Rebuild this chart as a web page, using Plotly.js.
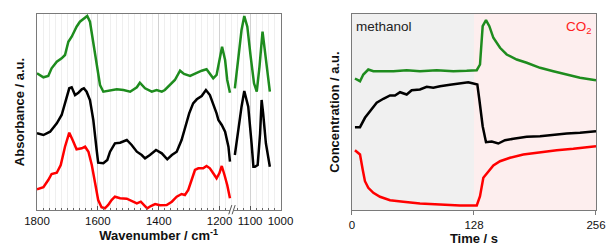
<!DOCTYPE html>
<html><head><meta charset="utf-8">
<script src="https://cdn.plot.ly/plotly-3.0.1.min.js"></script>
<style>html,body{margin:0;padding:0;background:#fff}#g{width:607px;height:251px}</style>
</head><body><div id="g"></div>
<script>
// ---- Left panel: IR spectra (wavenumber / cm-1, absorbance a.u.) ----
const greenWnL = [1800,1779,1763,1752,1735,1719,1708,1697,1686,1670,1659,1648,1635,1626,1615,1604,1593,1582,1560,1538,1516,1494,1472,1462,1445,1423,1407,1390,1380,1363,1347,1330,1317,1297,1275,1259,1243,1232,1221,1210,1201,1192,1182,1175,1166];
const greenAbsL = [136.7,132.7,134,141.7,148.3,151.7,155,168.3,173.3,183.3,188.3,190.7,194,188.3,166.7,143.3,125,118.3,119.3,120.7,120,118.3,122.7,127.3,121.7,118.3,120,118.3,120,125,130,139.3,136,134,137.3,139.3,140.7,136.7,131.7,135,150,163.3,150,130,117.3];
const greenWnR = [1150,1139,1128,1119,1109,1098,1087,1078,1069,1059,1051,1042,1035];
const greenAbsR = [121.7,150,180,194,183.3,153.3,126.7,118.3,143.3,178.3,156.7,133.3,118.3];

const blackWnL = [1800,1779,1757,1735,1719,1705,1694,1686,1675,1664,1653,1646,1637,1626,1615,1604,1599,1582,1569,1560,1544,1527,1505,1489,1472,1456,1445,1429,1409,1390,1372,1357,1341,1325,1314,1300,1287,1275,1259,1245,1232,1221,1210,1204,1193,1182,1171,1166];
const blackAbsL = [76.7,75,78.3,86.7,95,110,121.7,122.7,115,117.3,120.7,121.7,118.3,110,90,60,47.3,46.7,50,58.3,66.7,67.3,70,65,58.3,55,51.7,55,60,56.7,50.7,55,58.3,70,81.7,96.7,106.7,110.7,114,120,115,106.7,96.7,90,85,78.3,63.3,48.3];
const blackWnR = [1150,1139,1128,1119,1106,1095,1089,1084,1075,1067,1062,1057,1048,1035];
const blackAbsR = [55,80,103.3,119,103.3,66.7,43.3,43.3,45,76.7,110,96.7,66.7,43.3];

const redWnL = [1800,1779,1763,1752,1735,1722,1708,1694,1683,1670,1653,1642,1631,1620,1609,1599,1588,1577,1566,1555,1544,1527,1505,1489,1472,1459,1448,1438,1426,1412,1396,1374,1357,1341,1325,1314,1303,1292,1281,1270,1254,1243,1232,1221,1210,1201,1193,1184,1175,1166];
const redAbsL = [20.7,22.7,30,36,37.3,45,63.3,77.3,70,60.7,61.7,63.3,58.3,45,26.7,10,2.7,1.7,5,10,13.3,11.7,11.3,9.3,6.7,8.3,5,1.7,4,6,4.7,5,8.3,13.3,16,15,20,30.7,40,41.7,41.7,44,41.7,36.7,31.7,36.7,44,35,25,11.7];

const wnTickVals = [1800,1600,1400,1200,1100,1000];
const wnTickText = ["1800","1600","1400","1200","1100","1000"];

// ---- Right panel: concentration vs time ----
const greenT = [3.1,8.4,11.9,17.1,22.4,32.9,43.4,57.4,71.3,88.9,106.3,120.3,130.9,134.3,137.1,140.6,144.1,148.3,155.3,162.3,172.8,183.3,197.3,211.2,225.3,239.2,256];
const greenC = [131.5,128.8,135.5,140.5,138.8,138.5,138.8,139.8,138.8,139.8,138.8,139.2,139.8,145.5,183.8,189.8,183.8,172.2,162.2,155.5,150.5,147.2,142.2,138.8,135.5,132.2,129.8];
const blackT = [3.1,8.4,13.6,18.9,25.9,32.9,39.9,45.1,50.4,57.4,62.6,71.3,78.4,85.3,92.3,102.8,113.3,122,127.3,131.5,133.6,137.1,140.6,146.6,153.5,160.5,169.3,183.3,197.3,211.2,225.3,239.2,256];
const blackC = [82.8,82.8,92.2,98.8,107.2,111.2,114.5,114.5,117.8,115.5,119.8,120.5,123.2,122.2,123.8,125.2,126.5,127.8,126.5,125.5,110.5,83.8,67.8,68.5,66.5,69.8,71.2,73.2,73.8,75.5,76.5,77.2,78.8];
const redT = [3.1,8.4,11.2,13.6,17.1,22.4,29.4,39.9,53.8,71.3,92.3,113.3,130.9,134.3,137.8,143,148.3,155.3,165.8,179.7,197.3,214.8,232.2,256];
const redC = [59.8,55.5,40.5,28.8,22.2,17.2,13.2,9.8,8.2,6.5,5.5,4.5,4.5,13.8,32.2,38.8,44.5,48.8,52.2,55.5,57.8,59.8,61.2,63.8];
const timeTickVals = [0,128,256];
const phaseStart = [0,128];
const phaseEnd = [128,256];
const phaseFill = ["#f0f0f0","#fdeeee"];

const GREEN = "#1e8c1e", BLACK = "#000000", RED = "#ff0000";
const LW = 2.5;
const FONT = "Liberation Sans, Arial, sans-serif";

function tr(x, y, c, xa, ya) {
  return {x: x, y: y, type: "scatter", mode: "lines", line: {color: c, width: LW},
          xaxis: xa, yaxis: ya, showlegend: false, hoverinfo: "skip"};
}

const data = [
  tr(greenWnL, greenAbsL, GREEN, "x", "y"),
  tr(greenWnR, greenAbsR, GREEN, "x", "y"),
  tr(blackWnL, blackAbsL, BLACK, "x", "y"),
  tr(blackWnR, blackAbsR, BLACK, "x", "y"),
  tr(redWnL, redAbsL, RED, "x", "y"),
  tr(greenT, greenC, GREEN, "x2", "y2"),
  tr(blackT, blackC, BLACK, "x2", "y2"),
  tr(redT, redC, RED, "x2", "y2")
];

const frame = "#7a7a7a";
const shapes = [];
for (let i = 0; i < phaseStart.length; i++) {
  shapes.push({type: "rect", xref: "x2", yref: "y2 domain", x0: phaseStart[i], x1: phaseEnd[i], y0: 0, y1: 1,
               fillcolor: phaseFill[i], line: {width: 0}, layer: "below"});
}
// axis break marks "//"
shapes.push({type: "rect", xref: "x", yref: "paper", x0: 1166, x1: 1153, y0: -0.012, y1: 0.012,
             fillcolor: "#ffffff", line: {width: 0}, layer: "above"});
shapes.push({type: "line", xref: "x", yref: "paper", x0: 1170, y0: -0.022, x1: 1160, y1: 0.025, line: {color: "#555", width: 1}, layer: "above"});
shapes.push({type: "line", xref: "x", yref: "paper", x0: 1159, y0: -0.022, x1: 1149, y1: 0.025, line: {color: "#555", width: 1}, layer: "above"});

const layout = {
  width: 607, height: 251,
  margin: {l: 37, r: 11, t: 14, b: 41, pad: 0},
  paper_bgcolor: "#ffffff", plot_bgcolor: "#ffffff",
  font: {family: FONT, size: 11.5, color: "#111"},
  showlegend: false,
  xaxis: {
    domain: [0, 0.4356], range: [1800, 1000], anchor: "y",
    tickmode: "array", tickvals: wnTickVals, ticktext: wnTickText,
    ticks: "inside", ticklen: 4, tickcolor: "#555",
    showgrid: true, gridcolor: "#d2d2d2", gridwidth: 1,
    minor: {tickmode: "linear", tick0: 1000, dtick: 20, ticks: "inside", ticklen: 2.5, tickcolor: "#666", showgrid: true, gridcolor: "#efefef", gridwidth: 1},
    showline: true, linecolor: frame, linewidth: 1, mirror: true, zeroline: false,
    tickfont: {family: FONT, size: 11.5, color: "#111"},
    title: {text: "<b>Wavenumber / cm<sup>-1</sup></b>", font: {family: FONT, size: 13, color: "#111"}, standoff: 4}
  },
  yaxis: {
    domain: [0, 1], range: [0, 196], anchor: "x",
    showticklabels: false, ticks: "", showgrid: false, zeroline: false,
    showline: true, linecolor: frame, linewidth: 1, mirror: true,
    title: {text: "<b>Absorbance / a.u.</b>", font: {family: FONT, size: 13, color: "#111"}, standoff: 8}
  },
  xaxis2: {
    domain: [0.5635, 1], range: [0, 256], anchor: "y2",
    tickmode: "array", tickvals: timeTickVals,
    ticks: "outside", ticklen: 4, tickcolor: frame,
    showgrid: false, zeroline: false,
    showline: true, linecolor: frame, linewidth: 1, mirror: true,
    tickfont: {family: FONT, size: 11.5, color: "#111"},
    title: {text: "<b>Time / s</b>", font: {family: FONT, size: 13, color: "#111"}, standoff: 4}
  },
  yaxis2: {
    domain: [0, 1], range: [0, 196], anchor: "x2",
    showticklabels: false, ticks: "", showgrid: false, zeroline: false,
    showline: true, linecolor: frame, linewidth: 1, mirror: true,
    title: {text: "<b>Concentration / a.u.</b>", font: {family: FONT, size: 13, color: "#111"}, standoff: 8}
  },
  shapes: shapes,
  annotations: [
    {text: "methanol", xref: "x2 domain", yref: "y2 domain", x: 0.01, y: 0.985, xanchor: "left", yanchor: "top",
     showarrow: false, font: {family: FONT, size: 13.5, color: "#222"}},
    {text: "CO<sub>2</sub>", xref: "x2 domain", yref: "y2 domain", x: 0.99, y: 0.985, xanchor: "right", yanchor: "top",
     showarrow: false, font: {family: FONT, size: 13.5, color: "#ff2020"}}
  ]
};

Plotly.newPlot("g", data, layout, {staticPlot: true, displayModeBar: false});
</script>
</body></html>
